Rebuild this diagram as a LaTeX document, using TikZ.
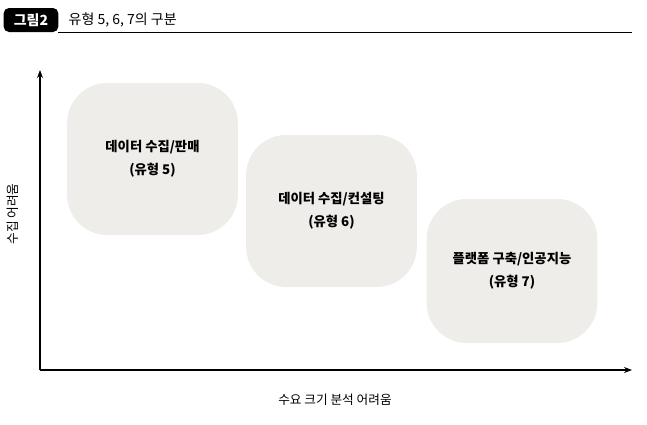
\documentclass[tikz,border=0pt]{standalone}
\usepackage{fontspec}
\setmainfont{Noto Sans CJK KR}
\usetikzlibrary{arrows.meta}
\definecolor{boxg}{HTML}{EEEDE9}
\tikzset{
  blob/.style={fill=boxg, rounded corners=30pt, minimum width=128pt, minimum height=114pt, align=center, font=\bfseries\fontsize{10}{17}\selectfont},
  axis/.style={line width=0.8pt, -{Stealth[length=6pt,width=4.5pt]}},
  lbl/.style={font=\fontsize{9.5}{11}\selectfont}
}
\begin{document}
\begin{tikzpicture}[x=0.75pt,y=-0.75pt]
\useasboundingbox (0,0) rectangle (647,425);
\node[fill=black, rounded corners=4pt, minimum width=41pt, minimum height=18pt, text=white, font=\bfseries\fontsize{10.5}{12}\selectfont] (hd) at (31,20) {그림2};
\node[anchor=west, font=\fontsize{10.5}{12}\selectfont] (tt) at (64,20) {유형 5, 6, 7의 구분};
\coordinate (l1) at (58,32); \coordinate (l2) at (632,32);
\draw[line width=0.6pt] (l1) -- (l2);
\coordinate (o) at (40,370); \coordinate (yt) at (40,70); \coordinate (xt) at (632,370);
\draw[axis] (o) -- (yt);
\draw[axis] (o) -- (xt);
\node[lbl, rotate=90] (yl) at (13,214) {수집 어려움};
\node[lbl] (xl) at (335,400) {수요 크기 분석 어려움};
\node[blob] (b1) at (152.5,159) {데이터 수집/판매\\(유형 5)};
\node[blob] (b2) at (331.5,211) {데이터 수집/컨설팅\\(유형 6)};
\node[blob, minimum height=108pt] (b3) at (512,271) {플랫폼 구축/인공지능\\(유형 7)};
\end{tikzpicture}
\end{document}
